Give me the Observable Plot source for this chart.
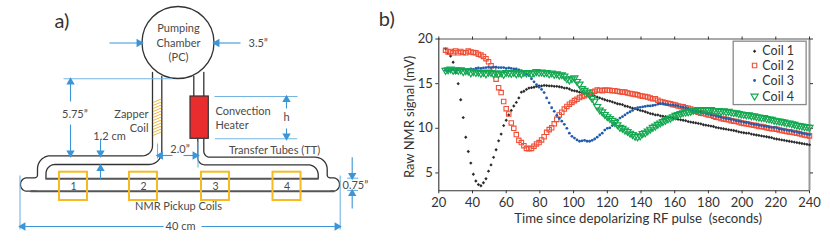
<!DOCTYPE html>
<html>
<head>
<meta charset="utf-8">
<script src="https://cdn.jsdelivr.net/npm/d3@7"></script>
<script src="https://cdn.jsdelivr.net/npm/@observablehq/plot@0.6"></script>
<style>
html,body{margin:0;padding:0;background:#fff}
#wrap{position:relative;width:830px;height:242px;overflow:hidden}
#wrap svg{position:absolute;top:0;background:none;overflow:visible}
</style>
</head>
<body>
<div id="wrap"></div>
<script>
// ---------- Panel b data: raw NMR signal (mV), one reading every 1.5 s from 24 s to 240 s
const time = [
 24,25.5,27,28.5,30,31.5,33,34.5,36,37.5, 39,40.5,42,43.5,45,46.5,48,49.5,51,52.5,
 54,55.5,57,58.5,60,61.5,63,64.5,66,67.5, 69,70.5,72,73.5,75,76.5,78,79.5,81,82.5,
 84,85.5,87,88.5,90,91.5,93,94.5,96,97.5, 99,100.5,102,103.5,105,106.5,108,109.5,111,112.5,
 114,115.5,117,118.5,120,121.5,123,124.5,126,127.5, 129,130.5,132,133.5,135,136.5,138,139.5,141,142.5,
 144,145.5,147,148.5,150,151.5,153,154.5,156,157.5, 159,160.5,162,163.5,165,166.5,168,169.5,171,172.5,
 174,175.5,177,178.5,180,181.5,183,184.5,186,187.5, 189,190.5,192,193.5,195,196.5,198,199.5,201,202.5,
 204,205.5,207,208.5,210,211.5,213,214.5,216,217.5, 219,220.5,222,223.5,225,226.5,228,229.5,231,232.5,
 234,235.5,237,238.5,240];
const coil1 = [
 18.9,18.4,18.1,17.4,16.2,15.0,13.2,11.2,9.0,7.4,
 6.1,4.85,4.1,3.7,3.57,3.9,4.35,5.2,5.9,6.75,
 7.6,8.6,9.35,10.3,10.9,11.5,12.0,12.5,12.9,13.4,
 14.05,14.15,14.35,14.5,14.55,14.6,14.7,14.75,14.75,14.8,
 14.78,14.75,14.75,14.7,14.7,14.65,14.6,14.5,14.5,14.4,
 14.25,14.2,14.15,14.05,14.0,13.95,13.85,13.8,13.65,13.6,
 13.5,13.4,13.3,13.2,13.1,13.05,12.95,12.85,12.75,12.7,
 12.65,12.5,12.45,12.35,12.25,12.2,12.1,12.0,11.95,11.85,
 11.75,11.65,11.6,11.5,11.5,11.4,11.35,11.3,11.25,11.2,
 11.15,11.05,11.0,10.95,10.9,10.85,10.75,10.7,10.65,10.6,
 10.55,10.5,10.4,10.35,10.3,10.25,10.2,10.1,10.05,10.0,
 9.95,9.9,9.85,9.8,9.75,9.7,9.6,9.55,9.5,9.45,
 9.45,9.35,9.3,9.25,9.2,9.15,9.1,9.05,9.0,8.95,
 8.85,8.8,8.75,8.7,8.65,8.6,8.55,8.5,8.45,8.4,
 8.35,8.3,8.25,8.2,8.15];
const coil2 = [
 18.75,18.55,18.6,18.45,18.65,18.45,18.6,18.5,18.45,18.65,
 18.55,18.5,18.45,18.3,18.2,18.05,17.8,17.45,17.0,16.6,
 15.5,14.55,14.0,13.0,12.2,11.6,10.6,10.0,9.3,8.65,
 8.4,8.05,7.75,7.7,7.75,8.0,8.25,8.4,8.7,9.05,
 9.55,9.85,10.05,10.5,11.0,11.5,11.8,12.15,12.45,12.7,
 12.9,13.1,13.25,13.45,13.55,13.65,13.8,13.95,14.05,14.15,
 14.3,14.25,14.2,14.3,14.25,14.25,14.2,14.2,14.15,14.1,
 14.05,14.05,13.95,13.9,13.85,13.8,13.75,13.65,13.6,13.55,
 13.5,13.4,13.3,13.3,13.15,13.0,12.95,12.85,12.8,12.75,
 12.65,12.6,12.5,12.45,12.4,12.3,12.25,12.15,12.0,11.9,
 11.8,11.7,11.65,11.6,11.5,11.45,11.35,11.25,11.2,11.1,
 11.05,11.0,10.95,10.85,10.8,10.75,10.7,10.6,10.55,10.5,
 10.45,10.4,10.35,10.3,10.2,10.2,10.15,10.05,10.0,9.95,
 9.95,9.9,9.8,9.75,9.7,9.65,9.6,9.55,9.5,9.45,
 9.4,9.3,9.25,9.2,9.15];
const coil3 = [
 16.5,16.45,16.5,16.55,16.5,16.55,16.6,16.6,16.55,16.6,
 16.65,16.6,16.7,16.75,16.7,16.75,16.8,16.85,16.8,16.85,
 16.85,16.8,16.8,16.8,16.7,16.75,16.7,16.65,16.65,16.55,
 16.45,16.3,16.1,15.9,15.55,15.2,14.9,14.6,14.35,14.0,
 13.4,12.85,12.3,11.9,11.45,11.1,10.8,10.45,10.0,9.45,
 9.1,8.9,8.7,8.55,8.6,8.65,8.55,8.55,8.65,8.8,
 9.0,9.25,9.45,9.8,10.0,10.05,10.3,10.55,10.9,11.15,
 11.3,11.5,11.7,11.85,12.0,12.2,12.3,12.35,12.4,12.45,
 12.5,12.5,12.55,12.6,12.7,12.75,12.75,12.7,12.65,12.6,
 12.6,12.55,12.5,12.4,12.35,12.3,12.2,12.1,12.0,11.95,
 11.85,11.8,11.7,11.65,11.6,11.5,11.45,11.4,11.3,11.25,
 11.15,11.1,11.05,11.0,10.95,10.85,10.8,10.75,10.7,10.65,
 10.6,10.5,10.45,10.4,10.35,10.3,10.25,10.2,10.15,10.1,
 10.1,10.05,9.95,9.9,9.85,9.8,9.75,9.7,9.6,9.6,
 9.5,9.45,9.4,9.35,9.3];
const coil4 = [
 16.45,16.5,16.6,16.45,16.5,16.45,16.5,16.3,16.4,16.35,
 16.15,16.3,16.2,16.25,16.1,16.2,16.05,16.25,16.2,16.05,
 16.15,16.05,16.15,16.0,16.2,16.15,16.1,16.2,16.05,16.15,
 16.05,16.2,16.15,16.2,16.05,16.15,16.3,16.2,16.25,16.15,
 16.2,16.05,16.15,16.0,16.05,15.9,15.95,15.8,15.5,15.35,
 15.5,15.6,15.2,14.9,14.4,14.2,14.0,13.7,13.3,13.0,
 12.4,12.0,11.8,11.5,11.25,11.05,10.85,10.6,10.35,10.05,
 9.95,9.75,9.6,9.4,9.25,9.05,9.0,9.1,9.35,9.45,
 9.65,9.85,10.05,10.2,10.4,10.55,10.7,10.85,11.0,11.1,
 11.25,11.4,11.5,11.6,11.7,11.75,11.8,11.85,11.95,12.0,
 12.05,11.95,12.05,12.0,12.0,12.05,11.95,11.9,11.95,11.85,
 11.9,11.8,11.85,11.75,11.7,11.7,11.6,11.55,11.5,11.45,
 11.45,11.35,11.35,11.25,11.2,11.15,11.15,11.05,11.0,10.95,
 10.85,10.8,10.75,10.7,10.65,10.55,10.55,10.45,10.4,10.3,
 10.25,10.2,10.15,10.1,10.05];
const xTicks = [20,40,60,80,100,120,140,160,180,200,220,240];
const yTicks = [5,10,15,20];
const seriesNames = ["Coil 1","Coil 2","Coil 3","Coil 4"];
const xTitle = "Time since depolarizing RF pulse\u00a0\u00a0(seconds)";
const yTitle = "Raw NMR signal (mV)";

// ---------- Panel a labels and parts
const coilNumbers = ["1","2","3","4"];
const coilLefts = [59,129,201,272.5];
const diagramLabels = [
 {t:"Pumping",x:178,y:28,a:"middle"},{t:"Chamber",x:178,y:42.5,a:"middle"},{t:"(PC)",x:178,y:57,a:"middle"},
 {t:"3.5\u201d",x:248,y:42.5,a:"start"},{t:"5.75\u201d",x:61.5,y:114,a:"start"},
 {t:"Zapper",x:148,y:114,a:"end"},{t:"Coil",x:148,y:128,a:"end"},
 {t:"Convection",x:215,y:111,a:"start"},{t:"Heater",x:215,y:125,a:"start"},{t:"h",x:286,y:117,a:"middle"},
 {t:"1.2 cm",x:109,y:136,a:"middle"},{t:"2.0\u201d",x:179.5,y:149,a:"middle"},
 {t:"Transfer Tubes (TT)",x:274,y:150,a:"middle"},{t:"0.75\u201d",x:342,y:185,a:"start"},
 {t:"NMR Pickup Coils",x:178,y:206,a:"middle"},{t:"40 cm",x:180,y:226,a:"middle"}
];
const tubePaths = [
 [[152,72],[152,155.3,10],[37,155.3,13],[37,177.3,3],[20,177.3,6.5],[20,190.7,6.5],[36,190.7]],
 [[161.3,76],[161.3,164,13],[45.5,164,9],[45.5,178]],
 [[193.3,76],[193.3,96]],
 [[203.3,72],[203.3,96]],
 [[197.3,138],[197.3,164.3,7],[317.7,164.3,10],[317.7,178]],
 [[203.3,138],[203.3,156.7,6],[326.7,156.7,12],[326.7,177.3,3],[339,177.3,6.5],[339,190.7,6.5],[330,190.7]]
];
const bodyLines = [[30,190.7,334,190.7],[45,178.3,318,178.3]];
const heater = {x1:190,x2:208.3,y1:96,y2:138.3};
const zapperRows = [102,105,108,111,114,117,120,123,126,129,132,135];
const blueLines = [
 [63,78.3,172,78.3],[19.5,175,19.5,229],[339.7,175,339.7,229],[214,96,297,96],[214.3,138.3,296.7,138.3],
 [157,143,157,158],[197.5,141,197.5,167],[346.7,177.7,357.7,177.7],[346.7,190,357.7,190]
];
const blueArrows = [
 [109,42.5,141,42.5],[240,42.5,214,42.5],[70,101,70,79],[70,124,70,155],[100,139,100,155],[100,179,100,165.5],
 [286,108,286,96.5],[286,128,286,138],[163,226,20,226],[201,226,339,226],[172,155,157.5,155],[183,155,197,155],
 [351.7,156.7,351.7,177.5],[351.7,208,351.7,190.5]
];

// ---------- Helpers
const blue = "#3b95d6", dark = "#333", tx = "#4a4a4a", yellow = "#f6bb22", font = "Lato, 'Open Sans', sans-serif";
function rounded(v){
  const out=[];
  v.forEach((p,i)=>{
    const r=p[2];
    if(!r){out.push({x:p[0],y:p[1]});return;}
    const a=v[i-1],b=v[i+1];
    const u=(q)=>{const dx=q[0]-p[0],dy=q[1]-p[1],d=Math.hypot(dx,dy);return [dx/d,dy/d];};
    const ua=u(a),ub=u(b);
    for(let k=0;k<=10;k++){
      const s=k/10*Math.PI/2;
      out.push({x:p[0]+ua[0]*r*(1-Math.sin(s))+ub[0]*r*(1-Math.cos(s)),
                y:p[1]+ua[1]*r*(1-Math.sin(s))+ub[1]*r*(1-Math.cos(s))});
    }
  });
  return out;
}
const triangleDown = {draw(c,size){const s=Math.sqrt(size);c.moveTo(-s*0.62,-s*0.42);c.lineTo(s*0.62,-s*0.42);c.lineTo(0,s*0.62);c.closePath();}};

// ---------- Panel a
const links = a => a.map(d=>({x1:d[0],y1:d[1],x2:d[2],y2:d[3]}));
const heads = blueArrows.map(d=>{
  const dx=d[2]-d[0],dy=d[3]-d[1],L=Math.hypot(dx,dy);
  return {x:d[2]-dx/L*2.5,y:d[3]-dy/L*2.5,rot:Math.atan2(dy,dx)*180/Math.PI+90};
});
const linkM = (data,o)=>Plot.link(data,{x1:"x1",y1:"y1",x2:"x2",y2:"y2",...o});
const panelA = Plot.plot({
  width:400,height:242,margin:0,style:{background:"none",fontFamily:font},
  x:{domain:[0,400],range:[0,400],axis:null},
  y:{domain:[0,242],range:[0,242],axis:null},
  marks:[
    ...tubePaths.map(p=>Plot.line(rounded(p),{x:"x",y:"y",stroke:dark,strokeWidth:1.3})),
    linkM(links(bodyLines),{stroke:"#555",strokeWidth:1.9}),
    Plot.dot([{x:177.5,y:42}],{x:"x",y:"y",r:36,fill:"#fff",stroke:dark,strokeWidth:1.3}),
    Plot.rect([heater],{x1:"x1",x2:"x2",y1:"y1",y2:"y2",fill:"#e92c2e",stroke:dark,strokeWidth:1.2}),
    Plot.link(zapperRows,{x1:()=>152.5,x2:()=>160.8,y1:d=>d,y2:d=>d-3.5,stroke:"#f3b63a",strokeWidth:1}),
    linkM(links(blueLines),{stroke:"#74b4e2",strokeWidth:1.1}),
    linkM(links(blueArrows),{stroke:blue,strokeWidth:1.1}),
    Plot.dot(heads,{x:"x",y:"y",rotate:"rot",symbol:"triangle",r:3.1,fill:blue}),
    Plot.rect(coilLefts,{x1:d=>d,x2:d=>d+28,y1:()=>171.7,y2:()=>200,fill:"none",stroke:yellow,strokeWidth:2}),
    Plot.text(coilNumbers,{x:(d,i)=>coilLefts[i]+14,y:()=>186,text:d=>d,fontSize:10.5,fill:tx}),
    ...diagramLabels.map(l=>Plot.text([l],{x:"x",y:"y",text:"t",textAnchor:l.a,fontSize:11,fill:tx})),
    Plot.text(["a)"],{x:()=>54,y:()=>21,text:d=>d,textAnchor:"start",fontSize:20,fill:"#333"})
  ]
});
panelA.style.left="0px";

// ---------- Panel b
const rows = s => time.map((t,i)=>({t,v:s[i]}));
const styles = [
 {symbol:"diamond2",r:1.5,fill:"#2a2a2a"},
 {symbol:"square",r:2.5,fill:"none",stroke:"#ef5038",strokeWidth:1.1},
 {symbol:"circle",r:1.4,fill:"#1f5cae"},
 {symbol:triangleDown,r:3.2,fill:"none",stroke:"#12a850",strokeWidth:1.2}
];
const series = [coil1,coil2,coil3,coil4];
const legendY = [18.63,17.03,15.35,13.55];
const tickOpts = {tickSize:3,stroke:"#333",strokeWidth:1,fontSize:13,fill:"#333"};
const panelB = Plot.plot({
  width:430,height:242,marginLeft:38.3,marginRight:21,marginTop:38.5,marginBottom:51.7,
  style:{background:"none",fontFamily:font},
  x:{domain:[20,240],ticks:xTicks},
  y:{domain:[3,20],ticks:yTicks},
  marks:[
    Plot.ruleY([3],{stroke:"#333",strokeWidth:1.1}),
    Plot.ruleY([20],{stroke:"#555",strokeWidth:1.1}),
    Plot.ruleX([20],{stroke:"#333",strokeWidth:1.1}),
    Plot.ruleX([240],{stroke:"#999",strokeWidth:2}),
    Plot.axisX({anchor:"bottom",ticks:xTicks,label:null,tickPadding:4,...tickOpts}),
    Plot.axisX({anchor:"top",ticks:xTicks,label:null,tickFormat:()=>"",...tickOpts}),
    Plot.axisY({anchor:"left",ticks:yTicks,label:null,tickPadding:3,...tickOpts}),
    Plot.axisY({anchor:"right",ticks:yTicks,label:null,tickFormat:()=>"",...tickOpts}),
    ...series.map((s,i)=>Plot.dot(rows(s),{x:"t",y:"v",...styles[i]})),
    Plot.rect([0],{x1:()=>195,x2:()=>238.3,y1:()=>19.7,y2:()=>12.6,fill:"#fff",stroke:"#888",strokeWidth:1.3}),
    ...seriesNames.map((n,i)=>Plot.dot([n],{x:()=>207.4,y:()=>legendY[i],...styles[i]})),
    Plot.text(seriesNames,{x:()=>212,y:(d,i)=>legendY[i],text:d=>d,textAnchor:"start",fontSize:12.5,fill:"#333"}),
    Plot.text([xTitle],{frameAnchor:"bottom",dx:14,dy:32,text:d=>d,fontSize:13.2,fill:"#333"}),
    Plot.text([yTitle],{frameAnchor:"left",textAnchor:"middle",dx:-29.3,dy:2,rotate:-90,text:d=>d,fontSize:13,fill:"#333"}),
    Plot.text(["b)"],{frameAnchor:"top-left",dx:-60,dy:-27,text:d=>d,textAnchor:"start",fontSize:20,fill:"#333"})
  ]
});
panelB.style.left="400px";
document.getElementById("wrap").append(panelA,panelB);
</script>
</body>
</html>
